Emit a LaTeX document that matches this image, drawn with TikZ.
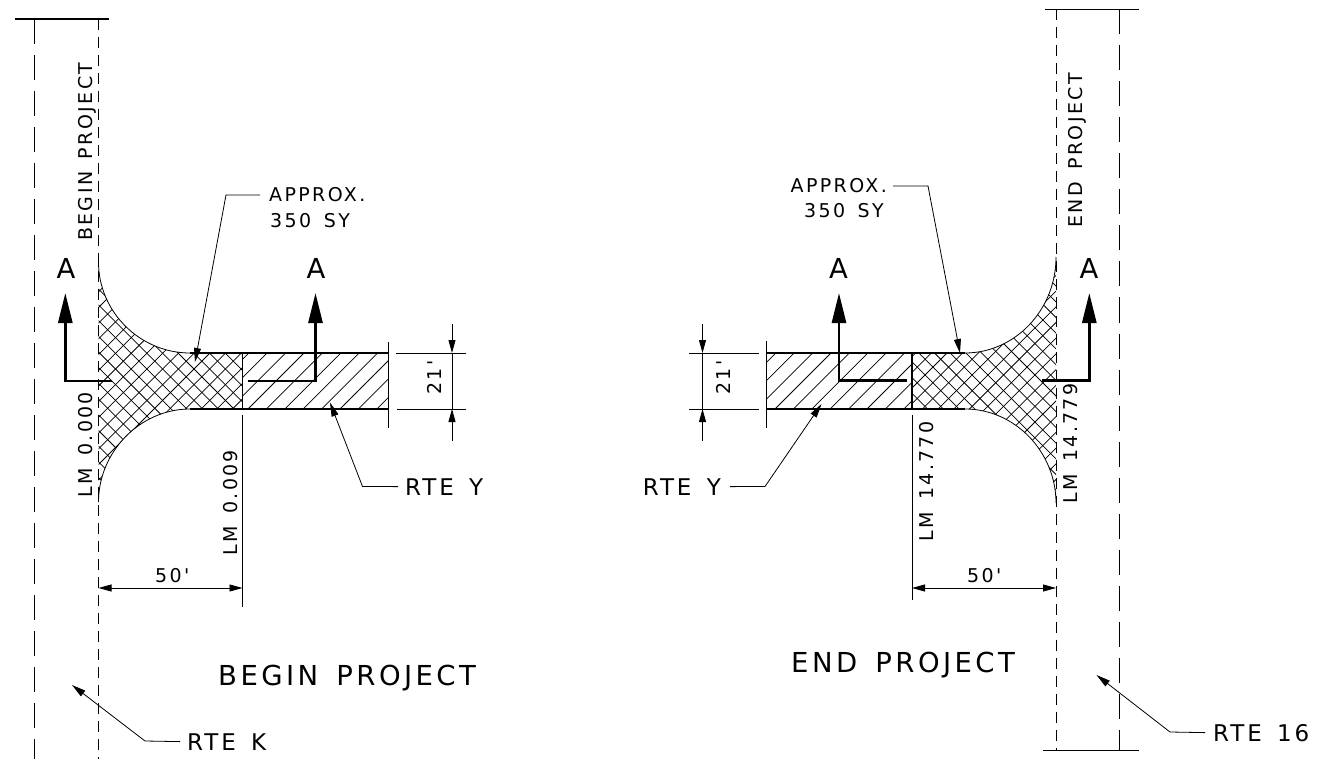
\documentclass[tikz,border=0pt]{standalone}
\usepackage{fontspec}
\usetikzlibrary{arrows.meta}
\newfontfamily\dwgfont[LetterSpace=12.5,WordSpace=1.5]{DejaVu Sans}
\tikzset{
  cl/.style={line width=0.9pt,dash pattern=on 25pt off 11pt},
  row/.style={line width=0.9pt,dash pattern=on 11pt off 7pt},
  thin/.style={line width=0.8pt},
  edge/.style={line width=1.1pt},
  hatchline/.style={line width=0.75pt},
  sect/.style={line width=2.7pt,-{Triangle[length=30pt,width=14pt]}},
  leader/.style={line width=0.8pt,-{Triangle[length=14pt,width=7pt]}},
  dim/.style={line width=0.8pt,{Triangle[length=13pt,width=7pt]}-{Triangle[length=13pt,width=7pt]}},
  dimtip/.style={line width=0.8pt,-{Triangle[length=13pt,width=7pt]}},
  small/.style={inner sep=0pt,font=\dwgfont\fontsize{19}{19}\selectfont},
  mid/.style={inner sep=0pt,font=\dwgfont\fontsize{23}{23}\selectfont},
  big/.style={inner sep=0pt,font=\dwgfont\fontsize{27.5}{27.5}\selectfont},
}
\begin{document}
\begin{tikzpicture}[x=1pt,y=-1pt]
\useasboundingbox (0,0) rectangle (1317,759);
% begin project, road shapes
\begin{scope}
\clip (98.5,262) .. controls (98.5,312) and (140,353) .. (190,353) -- (242.5,353) -- (242.5,409) -- (190,409) .. controls (140,409) and (98.5,452) .. (98.5,502) -- cycle;
\foreach \k in {-13,...,12} \draw [hatchline] ({563+15.7*\k-250},250) -- ({563+15.7*\k-520},520);
\foreach \k in {-15,...,5} \draw [hatchline] ({-175+15.7*\k+250},250) -- ({-175+15.7*\k+520},520);
\end{scope}
\begin{scope}
\clip (242.5,353) rectangle (388,409);
\foreach \k in {-4,...,8} \draw [hatchline] ({657+18.4*\k-340},340) -- ({657+18.4*\k-420},420);
\end{scope}
\draw [thin] (98.5,262) .. controls (98.5,312) and (140,353) .. (190,353);
\draw [thin] (98.5,502) .. controls (98.5,452) and (140,409) .. (190,409);
\draw [edge] (190,353) -- (388,353);
\draw [edge] (190,409) -- (388,409);
\draw [line width=1.5pt] (242.5,353) -- (242.5,409);
\draw [thin] (388,342) -- (388,428);
% begin project, center lines
\draw [edge] (15,19) -- (109,19);
\draw [cl] (34.5,19) -- (34.5,759);
\draw [row] (98.5,19) -- (98.5,759);
% begin project, section marks
\draw [sect] (112,381) -- (65.3,381) -- (65.3,293);
\draw [sect] (247.5,381) -- (315.5,381) -- (315.5,293);
\node [big,anchor=base] (secL1) at (66,279) {A};
\node [big,anchor=base] (secL2) at (316,279) {A};
% begin project, dimensions
\draw [thin] (396,353) -- (466,353);
\draw [thin] (397,409) -- (466,409);
\draw [thin] (452,353) -- (452,409);
\draw [dimtip] (452,324) -- (452,353);
\draw [dimtip] (452,441) -- (452,409);
\node [small,rotate=90,anchor=base west] (widL) at (441,395) {21'};
\draw [thin] (242.5,415) -- (242.5,607);
\draw [dim] (98.5,588) -- (242.5,588);
\node [small,anchor=base west] (lenL) at (155,582) {50'};
\node [small,rotate=90,anchor=base west] (lmA) at (92,498) {LM 0.000};
\node [small,rotate=90,anchor=base west] (lmB) at (237,556) {LM 0.009};
\node [small,rotate=90,anchor=base west] (beginV) at (92,241) {BEGIN PROJECT};
% begin project, notes
\node [small,anchor=base west] (apxL) at (269,202) {APPROX.};
\node [small,anchor=base west] (qtyL) at (270,228) {350 SY};
\coordinate (kneeA) at (226,195);
\coordinate (tipA) at (195,362);
\draw [leader] (260,195) -- (kneeA) -- (tipA);
\node [mid,anchor=base west] (rteYL) at (405,495) {RTE Y};
\coordinate (kneeB) at (362.5,486.5);
\coordinate (tipB) at (330,402.5);
\draw [leader] (rteYL.west) ++(-7,0) -- (kneeB) -- (tipB);
\node [big,anchor=base west] (beginT) at (218,685) {BEGIN PROJECT};
\node [mid,anchor=base west] (rteK) at (187,750) {RTE K};
\coordinate (kneeC) at (145,741);
\coordinate (tipC) at (72,685);
\draw [leader] (rteK.west) ++(-7,0) -- (kneeC) -- (tipC);
% end project, road shapes
\begin{scope}
\clip (1056,257) .. controls (1056,310) and (1015,353) .. (965,353) -- (912,353) -- (912,409) -- (965,409) .. controls (1015,409) and (1056,452) .. (1056,503) -- cycle;
\foreach \k in {-9,...,17} \draw [hatchline] ({1300+15.7*\k-250},250) -- ({1300+15.7*\k-520},520);
\foreach \k in {0,...,19} \draw [hatchline] ({503+15.7*\k+250},250) -- ({503+15.7*\k+520},520);
\end{scope}
\begin{scope}
\clip (766,353) rectangle (912,409);
\foreach \k in {-4,...,8} \draw [hatchline] ({1184+18.4*\k-340},340) -- ({1184+18.4*\k-420},420);
\end{scope}
\draw [thin] (1056,257) .. controls (1056,310) and (1015,353) .. (965,353);
\draw [thin] (1056,503) .. controls (1056,452) and (1015,409) .. (965,409);
\draw [edge] (965,353) -- (766,353);
\draw [edge] (965,409) -- (766,409);
\draw [line width=1.5pt] (912,353) -- (912,409);
\draw [thin] (766,341) -- (766,428);
% end project, center lines
\draw [edge] (1045,9.5) -- (1139,9.5);
\draw [edge] (1043,750.5) -- (1139,750.5);
\draw [cl] (1119.5,9.5) -- (1119.5,750.5);
\draw [row] (1056,9.5) -- (1056,750.5);
% end project, section marks
\draw [sect] (906.5,380.5) -- (839,380.5) -- (839,293);
\draw [sect] (1041.5,380.5) -- (1089.3,380.5) -- (1089.3,293);
\node [big,anchor=base] (secR1) at (838.5,279) {A};
\node [big,anchor=base] (secR2) at (1089,279) {A};
% end project, dimensions
\draw [thin] (689,353) -- (759,353);
\draw [thin] (689,409) -- (759,409);
\draw [thin] (702.5,353) -- (702.5,409);
\draw [dimtip] (702.5,324) -- (702.5,353);
\draw [dimtip] (702.5,441) -- (702.5,409);
\node [small,rotate=90,anchor=base west] (widR) at (730,395) {21'};
\draw [thin] (912,415) -- (912,600);
\draw [dim] (912,588) -- (1056,588);
\node [small,anchor=base west] (lenR) at (967,582) {50'};
\node [small,rotate=90,anchor=base west] (lmC) at (933,542) {LM 14.770};
\node [small,rotate=90,anchor=base west] (lmD) at (1077,504) {LM 14.779};
\node [small,rotate=90,anchor=base west] (endV) at (1082.5,228) {END PROJECT};
% end project, notes
\node [small,anchor=base east] (apxR) at (887,193) {APPROX.};
\node [small,anchor=base east] (qtyR) at (884,218) {350 SY};
\coordinate (kneeD) at (928,186);
\coordinate (tipD) at (960,353);
\draw [leader] (893,186) -- (kneeD) -- (tipD);
\node [mid,anchor=base east] (rteYR) at (721,495) {RTE Y};
\coordinate (kneeE) at (765,486.5);
\coordinate (tipE) at (821.5,404);
\draw [leader] (rteYR.east) ++(9,0) -- (kneeE) -- (tipE);
\node [big,anchor=base west] (endT) at (791,672) {END PROJECT};
\node [mid,anchor=base west] (rte16) at (1213,741) {RTE 16};
\coordinate (kneeF) at (1170,732);
\coordinate (tipF) at (1096.5,675);
\draw [leader] (rte16.west) ++(-8,0) -- (kneeF) -- (tipF);
\end{tikzpicture}
\end{document}
